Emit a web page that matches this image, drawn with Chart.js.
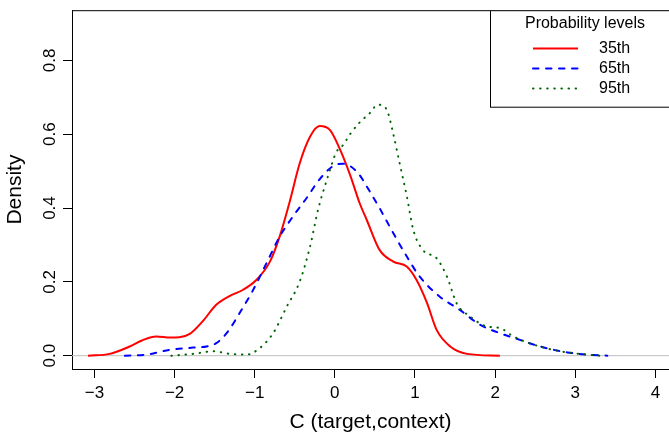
<!DOCTYPE html>
<html><head><meta charset="utf-8">
<script src="https://cdn.jsdelivr.net/npm/chart.js@4.4.1/dist/chart.umd.min.js"></script>
<style>html,body{margin:0;padding:0;background:#fff;overflow:hidden}canvas{display:block}</style>
</head><body>
<canvas id="c" width="669" height="435"></canvas>
<script>
// ---- data ----
const xTicks = [-3, -2, -1, 0, 1, 2, 3, 4];
const xTickLabels = ['\u22123', '\u22122', '\u22121', '0', '1', '2', '3', '4'];
const yTicks = [0, 0.2, 0.4, 0.6, 0.8];
const yTickLabels = ['0.0', '0.2', '0.4', '0.6', '0.8'];
const seriesNames = ['35th', '65th', '95th'];
const legendTitle = 'Probability levels';
const xTitle = 'C (target,context)';
const yTitle = 'Density';

const x35 = [-3.08, -2.81, -2.56, -2.40, -2.23, -2.05, -1.94, -1.81, -1.65, -1.48, -1.31, -1.15, -0.98, -0.81, -0.69, -0.56, -0.44, -0.31, -0.19, -0.06, 0.06, 0.19, 0.31, 0.40, 0.56, 0.73, 0.90, 1.02, 1.15, 1.27, 1.44, 1.65, 2.06];
const y35 = [0, 0.005, 0.025, 0.042, 0.052, 0.049, 0.050, 0.059, 0.093, 0.138, 0.162, 0.178, 0.205, 0.255, 0.322, 0.42, 0.52, 0.593, 0.622, 0.611, 0.561, 0.49, 0.413, 0.367, 0.286, 0.255, 0.241, 0.205, 0.143, 0.07, 0.025, 0.005, 0];

const x65 = [-2.62, -2.35, -2.06, -1.77, -1.60, -1.48, -1.35, -1.19, -1.02, -0.85, -0.69, -0.52, -0.35, -0.19, -0.02, 0.10, 0.19, 0.31, 0.40, 0.56, 0.73, 0.90, 1.06, 1.31, 1.56, 1.81, 2.06, 2.31, 2.56, 2.90, 3.15, 3.40];
const y65 = [0, 0.003, 0.016, 0.022, 0.025, 0.034, 0.061, 0.115, 0.178, 0.252, 0.322, 0.378, 0.428, 0.478, 0.514, 0.52, 0.514, 0.489, 0.458, 0.399, 0.332, 0.268, 0.214, 0.16, 0.124, 0.084, 0.061, 0.043, 0.025, 0.009, 0.003, 0];

const x95 = [-2.04, -1.77, -1.52, -1.31, -1.10, -0.94, -0.77, -0.60, -0.44, -0.31, -0.21, -0.10, 0.02, 0.10, 0.19, 0.31, 0.45, 0.53, 0.60, 0.66, 0.73, 0.81, 0.90, 0.98, 1.10, 1.27, 1.40, 1.52, 1.69, 1.90, 2.06, 2.23, 2.48, 2.81, 3.15, 3.31];
const y95 = [0, 0.005, 0.012, 0.005, 0.003, 0.02, 0.061, 0.133, 0.2, 0.295, 0.395, 0.476, 0.552, 0.57, 0.60, 0.632, 0.66, 0.68, 0.678, 0.66, 0.60, 0.52, 0.43, 0.34, 0.286, 0.264, 0.214, 0.142, 0.106, 0.079, 0.075, 0.052, 0.03, 0.012, 0.003, 0];

const xRange = [-3.28, 4.17];
const yRange = [-0.036, 0.936];
const zeroLineX = [-3.28, 4.17];
const zeroLineY = [0, 0];

// ---- build ----
const FONT = '"Liberation Sans", Arial, Helvetica, sans-serif';
const pts = (xs, ys) => xs.map((x, i) => ({ x: x, y: ys[i] }));

const styles = [
  { color: '#ff0000', dash: [], cap: 'butt', width: 2 },
  { color: '#0000ff', dash: [5.5, 7.5], cap: 'round', width: 2 },
  { color: '#006400', dash: [0.5, 6.6], cap: 'round', width: 2 }
];
const seriesData = [pts(x35, y35), pts(x65, y65), pts(x95, y95)];

const datasets = seriesData.map((d, i) => ({
  label: seriesNames[i],
  data: d,
  borderColor: styles[i].color,
  borderWidth: styles[i].width,
  borderDash: styles[i].dash,
  borderCapStyle: styles[i].cap,
  cubicInterpolationMode: 'monotone',
  pointRadius: 0,
  fill: false,
  order: 3 - i
}));
datasets.push({
  label: 'zero',
  data: pts(zeroLineX, zeroLineY),
  borderColor: '#bebebe',
  borderWidth: 1,
  pointRadius: 0,
  fill: false,
  order: 10
});

const extras = {
  id: 'extras',
  afterDraw(chart) {
    const ctx = chart.ctx;
    const ca = chart.chartArea;
    const ys = chart.scales.y;
    ctx.save();
    // top border of box
    ctx.strokeStyle = '#000';
    ctx.lineWidth = 1;
    ctx.beginPath();
    ctx.moveTo(ca.left, ca.top + 0.5);
    ctx.lineTo(ca.right + 2, ca.top + 0.5);
    ctx.stroke();
    // y tick labels (vertical)
    ctx.fillStyle = '#000';
    ctx.font = '17px ' + FONT;
    ctx.textAlign = 'center';
    ctx.textBaseline = 'alphabetic';
    yTicks.forEach((v, i) => {
      const py = ys.getPixelForValue(v);
      ctx.save();
      ctx.translate(54.5, py);
      ctx.rotate(-Math.PI / 2);
      ctx.fillText(yTickLabels[i], 0, 0);
      ctx.restore();
    });
    // legend
    const bx = 490, by = ca.top, bw = 200, bh = 97.5;
    ctx.fillStyle = '#fff';
    ctx.fillRect(bx, by, bw, bh);
    ctx.strokeStyle = '#000';
    ctx.lineWidth = 1;
    ctx.strokeRect(bx + 0.5, by + 0.5, bw, bh - 1);
    ctx.fillStyle = '#000';
    ctx.font = '16px ' + FONT;
    ctx.textAlign = 'center';
    ctx.textBaseline = 'middle';
    ctx.fillText(legendTitle, 585, 24);
    ctx.textAlign = 'left';
    seriesNames.forEach((name, i) => {
      const y = 48.5 + i * 20;
      const st = styles[i];
      ctx.save();
      ctx.strokeStyle = st.color;
      ctx.lineWidth = st.width;
      ctx.lineCap = st.cap;
      ctx.setLineDash(st.dash);
      ctx.beginPath();
      ctx.moveTo(533, y);
      ctx.lineTo(578, y);
      ctx.stroke();
      ctx.restore();
      ctx.fillStyle = '#000';
      ctx.fillText(name, 599, y);
    });
    ctx.restore();
  }
};

new Chart(document.getElementById('c'), {
  type: 'line',
  data: { datasets: datasets },
  options: {
    responsive: false,
    animation: false,
    devicePixelRatio: 1,
    layout: { padding: { top: 9, right: 0, left: 0, bottom: 0 } },
    plugins: { legend: { display: false }, tooltip: { enabled: false } },
    scales: {
      x: {
        type: 'linear',
        min: xRange[0], max: xRange[1],
        afterBuildTicks: s => { s.ticks = xTicks.map(v => ({ value: v })); },
        afterFit: s => { s.height = 66; },
        ticks: {
          color: '#000',
          font: { family: FONT, size: 17 },
          padding: 5,
          maxRotation: 0,
          autoSkip: false,
          callback: v => { const i = xTicks.indexOf(v); return i >= 0 ? xTickLabels[i] : ''; }
        },
        grid: { drawOnChartArea: false, drawTicks: true, tickLength: 9, tickColor: '#000' },
        border: { display: true, color: '#000', width: 1 },
        title: { display: true, text: xTitle, color: '#000', font: { family: FONT, size: 21 }, padding: { top: 0, bottom: 0 } }
      },
      y: {
        type: 'linear',
        min: yRange[0], max: yRange[1],
        afterBuildTicks: s => { s.ticks = yTicks.map(v => ({ value: v })); },
        afterFit: s => { s.width = 72; },
        ticks: { callback: () => '', autoSkip: false },
        grid: { drawOnChartArea: false, drawTicks: true, tickLength: 9, tickColor: '#000' },
        border: { display: true, color: '#000', width: 1 },
        title: { display: true, text: yTitle, color: '#000', font: { family: FONT, size: 21 }, padding: { top: 3, bottom: 0 } }
      }
    }
  },
  plugins: [extras]
});
</script>
</body></html>
